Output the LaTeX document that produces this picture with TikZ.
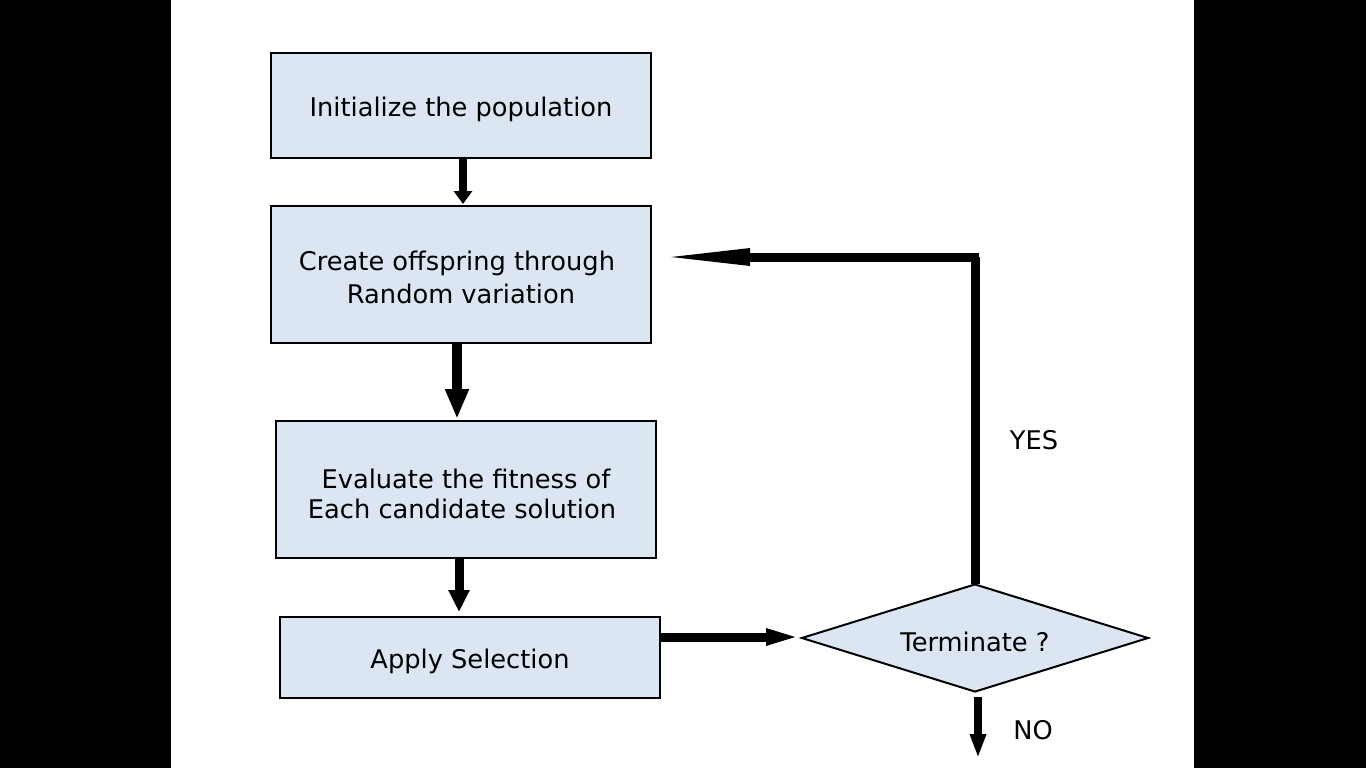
\documentclass[tikz,border=0pt]{standalone}
\usepackage{fontspec}
\setmainfont{DejaVu Sans}
\usetikzlibrary{arrows.meta,shapes.geometric}
\definecolor{boxfill}{HTML}{DCE6F2}
\begin{document}
\begin{tikzpicture}[x=1pt,y=-1pt,
  box/.style={draw=black,line width=2pt,fill=boxfill,inner sep=0pt,anchor=north west},
  lbl/.style={font=\fontsize{25.7}{32}\selectfont,align=center,inner sep=0pt},
  flow/.style={line width=#1,draw=black}]
\useasboundingbox (0,0) rectangle (1366,768);
\fill[black] (0,0) rectangle (1366,768);
\fill[white] (171,0) rectangle (1194,768);
% boxes
\node[box,minimum width=380pt,minimum height=105pt] (init) at (270,52) {};
\node[box,minimum width=380pt,minimum height=137pt] (create) at (270,205) {};
\node[box,minimum width=380pt,minimum height=137pt] (eval) at (275,420) {};
\node[box,minimum width=380pt,minimum height=81pt] (sel) at (279,616) {};
\node[diamond,draw=black,line width=2pt,fill=boxfill,inner sep=0pt,minimum width=347pt,minimum height=108pt,aspect=3.2] (term) at (975,638) {};
% texts
\node[lbl] (tinit) at (461,109) {Initialize the population};
\node[lbl] (tcreate1) at (457,263) {Create offspring through};
\node[lbl] (tcreate2) at (461,294) {Random variation};
\node[lbl] (teval1) at (466,479) {Evaluate the fitness of};
\node[lbl] (teval2) at (462,509) {Each candidate solution};
\node[lbl] (tsel) at (470,661) {Apply Selection};
\node[lbl] (tterm) at (975,642) {Terminate ?};
\node[lbl] (yes) at (1034,440) {YES};
\node[lbl] (no) at (1033,730) {NO};
% helper coordinates
\coordinate (a1s) at (463,159);
\coordinate (a1e) at (463,204);
\coordinate (a2s) at (457,343);
\coordinate (a2e) at (457,419);
\coordinate (a3s) at (459,558);
\coordinate (a3e) at (459,612);
\coordinate (a4s) at (660,637);
\coordinate (a4e) at (806,637);
\coordinate (ys) at (975,584);
\coordinate (ye) at (652,257);
\coordinate (ns) at (978,697);
\coordinate (ne) at (978,758);
% connectors
\draw[flow=8pt,-{Triangle[length=13pt,width=18pt]}] (a1s) -- (a1e);
\draw[flow=10pt,-{Triangle[length=30pt,width=22pt]}] (a2s) -- (a2e);
\draw[flow=9pt,-{Triangle[length=22pt,width=20pt]}] (a3s) -- (a3e);
\draw[flow=9pt,-{Triangle[length=40pt,width=14pt]}] (a4s) -- (a4e);
\draw[flow=8pt,-{Triangle[length=24pt,width=15pt]}] (ns) -- (ne);
\draw[flow=9pt] (ys) -- (975,257);
\draw[flow=9pt,-{Triangle[length=98pt,width=15pt]}] (979,257) -- (ye);
\end{tikzpicture}
\end{document}
